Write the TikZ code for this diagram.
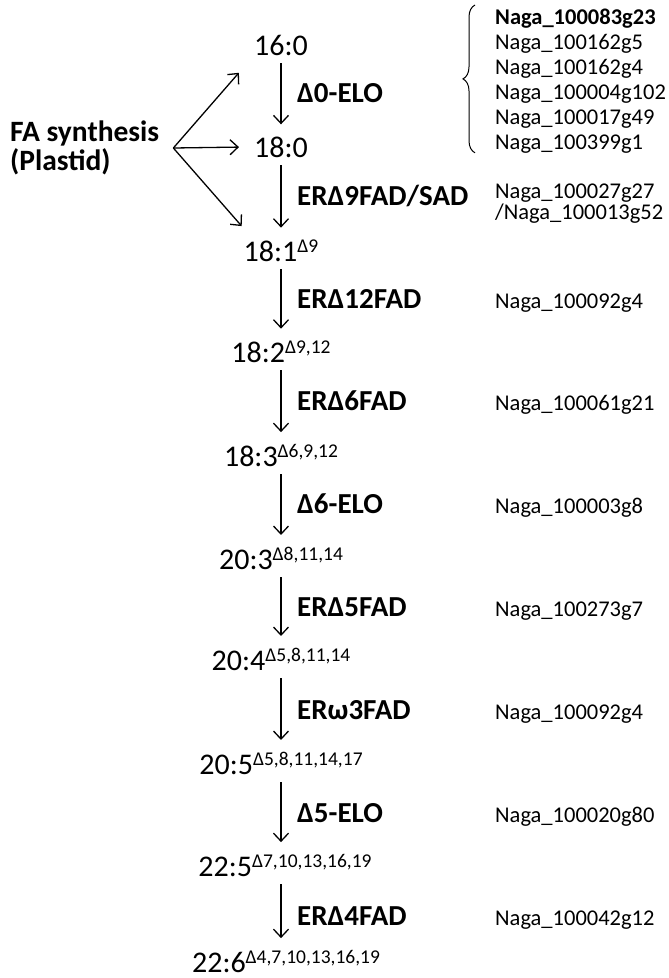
\documentclass[tikz,border=0pt]{standalone}
\usepackage{fontspec}
\setmainfont{Carlito}
\usetikzlibrary{arrows.meta, positioning, decorations.pathreplacing}

\newcommand{\dpos}[1]{\raisebox{8.5pt}{\fontsize{19.5}{19.5}\selectfont #1}}

\begin{document}
\begin{tikzpicture}[
    x=1pt, y=-1pt,
    every node/.style={inner sep=0pt},
    acido/.style={anchor=base, font=\fontsize{30}{34}\selectfont},
    enzima/.style={anchor=base west, font=\fontsize{29}{32}\selectfont\bfseries},
    gen/.style={anchor=base west, align=left, font=\fontsize{22.5}{25}\selectfont},
    origen/.style={anchor=west, align=left, font=\fontsize{29.5}{29}\selectfont\bfseries},
    flecha/.style={-{Straight Barb[length=8pt, width=15pt]}, line width=1.3pt,
                   shorten <=8pt, shorten >=12pt}
]
    \useasboundingbox (0,0) rectangle (669,978);

    % acidos grasos
    \node[acido] (c160) at (281,55)  {16:0};
    \node[acido] (c180) at (281,157) {18:0};
    \node[acido] (c181) at (281,261) {18:1\dpos{Δ9}};
    \node[acido] (c182) at (281,362) {18:2\dpos{Δ9,12}};
    \node[acido] (c183) at (281,466) {18:3\dpos{Δ6,9,12}};
    \node[acido] (c203) at (281,569) {20:3\dpos{Δ8,11,14}};
    \node[acido] (c204) at (281,670) {20:4\dpos{Δ5,8,11,14}};
    \node[acido] (c205) at (281,774) {20:5\dpos{Δ5,8,11,14,17}};
    \node[acido] (c225) at (285,876) {22:5\dpos{Δ7,10,13,16,19}};
    \node[acido] (c226) at (286,972) {22:6\dpos{Δ4,7,10,13,16,19}};

    % enzimas
    \node[enzima] (elo0)  at (297,102) {Δ0-ELO};
    \node[enzima] (fad9)  at (297,205) {ERΔ9FAD/SAD};
    \node[enzima] (fad12) at (297,308) {ERΔ12FAD};
    \node[enzima] (fad6)  at (297,410) {ERΔ6FAD};
    \node[enzima] (elo6)  at (297,513) {Δ6-ELO};
    \node[enzima] (fad5)  at (297,616) {ERΔ5FAD};
    \node[enzima] (fadw3) at (297,719) {ERω3FAD};
    \node[enzima] (elo5)  at (297,822) {Δ5-ELO};
    \node[enzima] (fad4)  at (297,925) {ERΔ4FAD};

    % genes
    \node[gen, anchor=north west] (g0) at (495,9) {\textbf{Naga\_100083g23}\\ Naga\_100162g5\\
        Naga\_100162g4\\ Naga\_100004g102\\ Naga\_100017g49\\ Naga\_100399g1};
    \node[gen, anchor=north west, font=\fontsize{22.5}{21}\selectfont] (g9) at (495,184)
        {Naga\_100027g27\\ /Naga\_100013g52};
    \node[gen] (g12) at (495,308) {Naga\_100092g4};
    \node[gen] (g6)  at (495,410) {Naga\_100061g21};
    \node[gen] (ge6) at (495,513) {Naga\_100003g8};
    \node[gen] (g5)  at (495,616) {Naga\_100273g7};
    \node[gen] (gw3) at (495,719) {Naga\_100092g4};
    \node[gen] (ge5) at (495,822) {Naga\_100020g80};
    \node[gen] (g4)  at (495,925) {Naga\_100042g12};

    \draw[decorate, decoration={brace, amplitude=12pt}, line width=1pt]
        ([xshift=-20pt, yshift=1pt]g0.south west) -- ([xshift=-20pt, yshift=4pt]g0.north west);

    % sintesis en el plastidio
    \node[origen] (fa) at (10,148) {FA synthesis\\(Plastid)};
    \coordinate[right=14pt of fa] (fork);

    \draw[flecha, shorten <=0pt, shorten >=23pt] (fork) -- (c160.south west);
    \draw[flecha, shorten <=0pt, shorten >=15pt] (fork) -- (c180.west);
    \draw[flecha, shorten <=0pt, shorten >=18pt] (fork) -- ([xshift=10pt]c181.north west);

    \draw[flecha] (c160.south) -- (c160.south |- c180.north);
    \draw[flecha] (c180.south) -- (c180.south |- c181.north);
    \draw[flecha] (c181.south) -- (c181.south |- c182.north);
    \draw[flecha] (c182.south) -- (c182.south |- c183.north);
    \draw[flecha] (c183.south) -- (c183.south |- c203.north);
    \draw[flecha] (c203.south) -- (c203.south |- c204.north);
    \draw[flecha] (c204.south) -- (c204.south |- c205.north);
    \draw[flecha] (c205.south) -- (c205.south |- c225.north);
    \draw[flecha] (c225.south -| c205.south) -- (c205.south |- c226.north);
\end{tikzpicture}
\end{document}
